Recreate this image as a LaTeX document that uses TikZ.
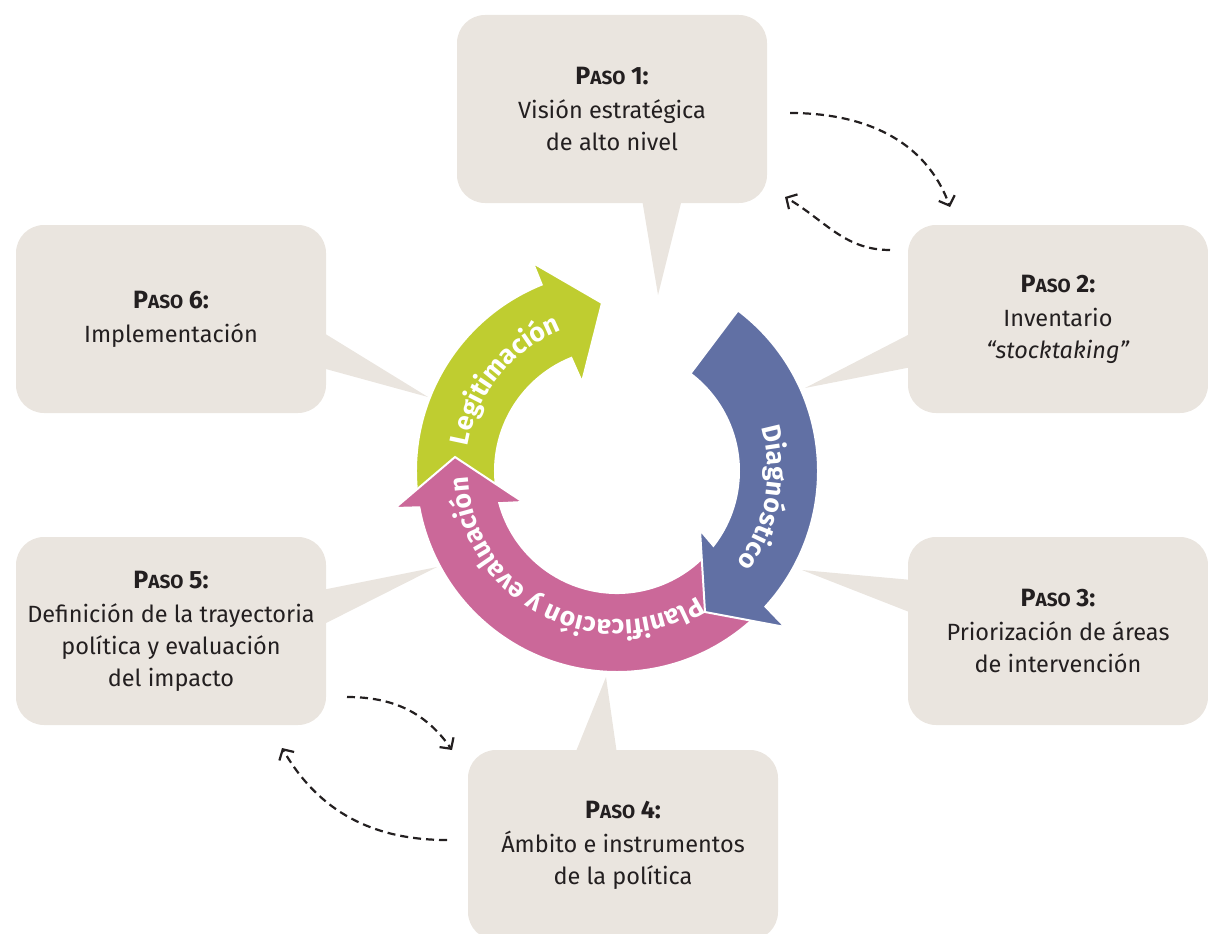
\documentclass[tikz,border=0pt]{standalone}
\usepackage{fontspec}
\setmainfont{Fira Sans}
\usetikzlibrary{arrows.meta,decorations.text}
\definecolor{boxgray}{RGB}{234,229,223}
\definecolor{legigreen}{RGB}{191,205,48}
\definecolor{diagblue}{RGB}{97,112,164}
\definecolor{planpink}{RGB}{203,104,153}
\definecolor{txtdark}{RGB}{35,31,32}
\newcommand{\paso}[1]{\textbf{{\fontsize{25}{28}\selectfont P}{\fontsize{19}{24}\selectfont ASO} {\fontsize{25}{28}\selectfont #1:}}}
\tikzset{
    stepbox/.style={fill=boxgray, rounded corners=28pt, minimum width=310pt, minimum height=188pt,
        align=center, inner sep=0pt, text=txtdark, font=\fontsize{23.5}{32}\selectfont},
    pointer/.style={fill=boxgray},
    ringarrow/.style={draw=white, line width=2pt},
    ringtext/.style={decorate, decoration={text along path, text align=center, text color=white,
        text={|\fontsize{26.5}{30}\selectfont\bfseries|#1}}},
    dashlink/.style={draw=txtdark, dash pattern=on 8pt off 5pt, line width=2.2pt,
        -{Straight Barb[length=8pt,width=17pt]}}
}
\begin{document}
\begin{tikzpicture}[x=1pt,y=1pt]
    \useasboundingbox (0,0) rectangle (1208,-934);
    % boxes
    \node[stepbox] (b1) at (612,-109) {\paso{1}\\[2pt] Visión estratégica\\ de alto nivel};
    \node[stepbox, minimum width=300pt] (b2) at (1058,-319) {\paso{2}\\[2pt] Inventario\\ \textit{“stocktaking”}};
    \node[stepbox, minimum width=300pt] (b3) at (1058,-631) {\paso{3}\\[2pt] Priorización de áreas\\ de intervención};
    \node[stepbox, minimum height=190pt] (b4) at (623,-845) {\paso{4}\\[2pt] Ámbito e instrumentos\\ de la política};
    \node[stepbox] (b5) at (171,-631) {\paso{5}\\[2pt] Definición de la trayectoria\\ política y evaluación\\ del impacto};
    \node[stepbox] (b6) at (171,-319) {\paso{6}\\[2pt] Implementación};
    % callout tips
    \coordinate (t1) at (658,-295);
    \coordinate (t2) at (805,-388);
    \coordinate (t3) at (802,-570);
    \coordinate (t4) at (606,-677);
    \coordinate (t5) at (437,-567);
    \coordinate (t6) at (428,-397);
    \fill[pointer] ([xshift=30pt,yshift=4pt]b1.south) -- (t1) -- ([xshift=70pt,yshift=4pt]b1.south) -- cycle;
    \fill[pointer] ([xshift=4pt,yshift=-14pt]b2.west) -- (t2) -- ([xshift=4pt,yshift=-48pt]b2.west) -- cycle;
    \fill[pointer] ([xshift=4pt,yshift=51pt]b3.west) -- (t3) -- ([xshift=4pt,yshift=18pt]b3.west) -- cycle;
    \fill[pointer] ([xshift=-48pt,yshift=-4pt]b4.north) -- (t4) -- ([xshift=-6pt,yshift=-4pt]b4.north) -- cycle;
    \fill[pointer] ([xshift=-4pt,yshift=41pt]b5.east) -- (t5) -- ([xshift=-4pt,yshift=6pt]b5.east) -- cycle;
    \fill[pointer] ([xshift=-4pt,yshift=-13pt]b6.east) -- (t6) -- ([xshift=-4pt,yshift=-49pt]b6.east) -- cycle;
    % cycle of arrows
    \coordinate (c) at (617,-471);
    \filldraw[ringarrow, fill=legigreen] ([shift={(190:201pt)}]c) arc[start angle=190, end angle=112, radius=201pt]
        -- (533,-263) -- (602,-303) -- (582,-382)
        -- ([shift={(112:122pt)}]c) arc[start angle=112, end angle=190, radius=122pt] -- cycle;
    \filldraw[ringarrow, fill=planpink] ([shift={(-45:201pt)}]c) arc[start angle=-45, end angle=-169.6, radius=201pt]
        -- (395,-508) -- (455,-457) -- (523,-502)
        -- ([shift={(-164.7:122pt)}]c) arc[start angle=-164.7, end angle=-45, radius=122pt] -- cycle;
    \filldraw[ringarrow, fill=diagblue] ([shift={(53:201pt)}]c) arc[start angle=53, end angle=-42.4, radius=201pt]
        -- (785,-627) -- (705,-612) -- (700,-530)
        -- ([shift={(-37.8:122pt)}]c) arc[start angle=-37.8, end angle=53, radius=122pt] -- cycle;
    \path[ringtext=Legitimación] ([shift={(186:151pt)}]c) arc[start angle=186, end angle=96, radius=151pt];
    \path[ringtext=Diagnóstico] ([shift={(35:151pt)}]c) arc[start angle=35, end angle=-56, radius=151pt];
    \path[ringtext=Planificación y evaluación] ([shift={(-40:149pt)}]c) arc[start angle=-40, end angle=-195, radius=149pt];
    % dashed links between steps
    \coordinate (d1s) at (790,-113);
    \coordinate (d1e) at (950,-207);
    \coordinate (d2s) at (890,-250);
    \coordinate (d2e) at (785,-197);
    \coordinate (d3s) at (347,-697);
    \coordinate (d3e) at (452,-750);
    \coordinate (d4s) at (447,-840);
    \coordinate (d4e) at (282,-748);
    \draw[dashlink] (d1s) to[out=0, in=110] (d1e);
    \draw[dashlink] (d2s) to[out=180, in=-30] (d2e);
    \draw[dashlink] (d3s) to[out=0, in=125] (d3e);
    \draw[dashlink] (d4s) to[out=180, in=-60] (d4e);
\end{tikzpicture}
\end{document}
